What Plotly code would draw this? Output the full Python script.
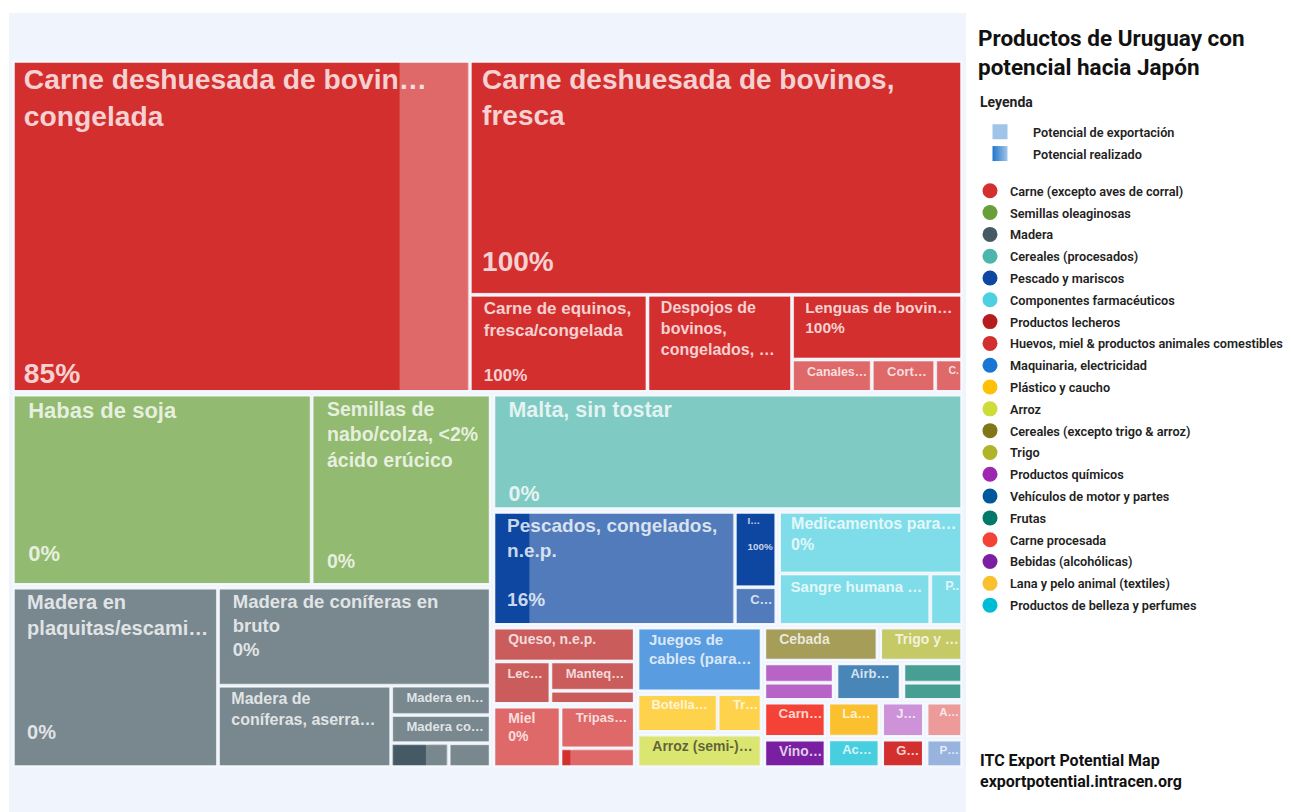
import plotly.graph_objects as go

W, H = 1292, 812
BG = "#f0f5fd"

# ---------------- data ----------------
CATEGORIES = [
    "Carne (excepto aves de corral)", "Semillas oleaginosas", "Madera",
    "Cereales (procesados)", "Pescado y mariscos", "Componentes farmacéuticos",
    "Productos lecheros", "Huevos, miel & productos animales comestibles",
    "Maquinaria, electricidad", "Plástico y caucho", "Arroz",
    "Cereales (excepto trigo & arroz)", "Trigo", "Productos químicos",
    "Vehículos de motor y partes", "Frutas", "Carne procesada",
    "Bebidas (alcohólicas)", "Lana y pelo animal (textiles)",
    "Productos de belleza y perfumes",
    "Jugos y conservas", "Grasas animales", "Aceites vegetales", "Pieles y cueros",
]
CATEGORY_COLORS = [
    "#d32f2f", "#689f38", "#455a64", "#4db6ac", "#0d47a1", "#4dd0e1",
    "#b71c1c", "#d32f2f", "#1976d2", "#ffc107", "#cddc39", "#827717",
    "#afb42b", "#9c27b0", "#01579b", "#00796b", "#f44336", "#7b1fa2",
    "#fbc02d", "#00bcd4",
    "#ba68c8", "#d32f2f", "#e57373", "#7095d0",
]
N_LEGEND = 20

PRODUCT_IDS = [
    "congelada", "fresca", "equinos", "despojos", "lenguas", "canales", "cortes", "c_carne",
    "soja", "colza",
    "plaquitas", "bruto", "aserrada", "madera_en", "madera_co", "madera_a", "madera_b",
    "malta",
    "pescados", "i_pesc", "c_pesc",
    "medicamentos", "sangre", "p_farma",
    "queso", "leche", "manteca", "lacteo_x",
    "miel", "tripas", "huevo_x",
    "cables", "botellas", "tr_plast", "arroz", "cebada", "trigo",
    "quim_1", "quim_2", "airbags", "fruta_1", "fruta_2",
    "carne_proc", "vino", "lana", "ac_belleza", "j_x", "g_x", "a_x", "p_x",
]
PRODUCT_LABELS = [
    "Carne deshuesada de bovin…<br>congelada", "Carne deshuesada de bovinos,<br>fresca",
    "Carne de equinos,<br>fresca/congelada", "Despojos de<br>bovinos,<br>congelados, …",
    "Lenguas de bovin…", "Canales…", "Cort…", "C.",
    "Habas de soja", "Semillas de<br>nabo/colza, &lt;2%<br>ácido erúcico",
    "Madera en<br>plaquitas/escami…", "Madera de coníferas en<br>bruto",
    "Madera de<br>coníferas, aserra…", "Madera en…", "Madera co…", "", "",
    "Malta, sin tostar",
    "Pescados, congelados,<br>n.e.p.", "I…", "C…",
    "Medicamentos para…", "Sangre humana …", "P..",
    "Queso, n.e.p.", "Lec…", "Manteq…", "",
    "Miel", "Tripas…", "",
    "Juegos de<br>cables (para…", "Botella…", "Tr…", "Arroz (semi-)…", "Cebada", "Trigo y …",
    "", "", "Airb…", "", "",
    "Carn…", "Vino…", "La…", "Ac…", "J…", "G…", "A…", "P…",
]
PRODUCT_CATEGORY = (
    [0] * 8 + [1] * 2 + [2] * 7 + [3] + [4] * 3 + [5] * 3 + [6] * 4 + [7] * 3
    + [8, 9, 9, 10, 11, 12, 13, 13, 14, 15, 15, 16, 17, 18, 19, 20, 21, 22, 23]
)
# export potential (USD millones, estimado)
POTENTIAL = [
    150.4, 114.2, 17.2, 14.0, 10.9, 2.65, 2.11, 0.94,
    56.9, 34.2,
    37.0, 26.8, 14.1, 2.9, 2.8, 1.43, 1.08,
    54.3,
    27.6, 3.23, 1.64,
    11.5, 7.9, 1.72,
    5.0, 2.52, 2.47, 1.23,
    4.25, 3.19, 1.5,
    8.3, 3.24, 1.8, 4.41, 4.08, 2.98,
    1.47, 1.32, 2.59, 1.25, 1.13,
    2.32, 1.9, 1.94, 1.62, 1.61, 1.32, 1.39, 1.14,
]
# realized potential (%)
REALIZED = [
    85, 100, 100, 100, 100, 0, 0, 0,
    0, 0,
    0, 0, 0, 2, 0, 63, 0,
    0,
    16, 100, 0,
    0, 0, 0,
    0, 0, 0, 0,
    0, 4, 15,
    0, 0, 0, 0, 0, 0,
    0, 0, 0, 0, 0,
    100, 100, 100, 0, 6, 100, 0, 0,
]
SHOW_PCT = {"congelada", "fresca", "equinos", "lenguas", "soja", "colza", "plaquitas",
            "bruto", "malta", "pescados", "i_pesc", "medicamentos", "miel"}

# ---------------- styles ----------------
LABEL_SIZE = {"congelada": 30, "fresca": 28, "equinos": 17, "despojos": 16, "lenguas": 15.5,
              "soja": 22, "colza": 19.5, "plaquitas": 20, "bruto": 18.5, "aserrada": 16,
              "malta": 22, "pescados": 19, "medicamentos": 16, "sangre": 15,
              "queso": 14, "miel": 14, "cables": 15, "arroz": 14, "cebada": 14,
              "trigo": 14, "carne_proc": 14, "vino": 14}
PCT_LINE = {"congelada": 8, "fresca": 5, "equinos": 3, "lenguas": 1, "soja": 5, "colza": 6,
            "plaquitas": 5, "bruto": 2, "malta": 3, "pescados": 3, "i_pesc": 2,
            "medicamentos": 1, "miel": 1}
DARK_TEXT = {"arroz"}
PACKING = "dice-slice"

# tiling arrangement: ("V", [...]) stacked, ("H", [...]) side by side, ("G", category, content)
TILING = ("V", [
    ("G", 0, ("H", ["congelada", ("V", ["fresca", ("H", ["equinos", "despojos",
        ("V", ["lenguas", ("H", ["canales", "cortes", "c_carne"])])])])])),
    ("H", [
        ("V", [
            ("G", 1, ("H", ["soja", "colza"])),
            ("G", 2, ("H", ["plaquitas", ("V", ["bruto", ("H", ["aserrada",
                ("V", ["madera_en", "madera_co", ("H", ["madera_a", "madera_b"])])])])])),
        ]),
        ("V", [
            ("G", 3, "malta"),
            ("H", [
                ("G", 4, ("H", ["pescados", ("V", ["i_pesc", "c_pesc"])])),
                ("G", 5, ("V", ["medicamentos", ("H", ["sangre", "p_farma"])])),
            ]),
            ("H", [
                ("V", [
                    ("G", 6, ("V", ["queso", ("H", ["leche", ("V", ["manteca", "lacteo_x"])])])),
                    ("G", 7, ("H", ["miel", ("V", ["tripas", "huevo_x"])])),
                ]),
                ("V", [("G", 8, "cables"), ("G", 9, ("H", ["botellas", "tr_plast"])), ("G", 10, "arroz")]),
                ("V", [
                    ("H", [("G", 11, "cebada"), ("G", 12, "trigo")]),
                    ("H", [("G", 13, ("V", ["quim_1", "quim_2"])), ("G", 14, "airbags"),
                           ("G", 15, ("V", ["fruta_1", "fruta_2"]))]),
                    ("H", [
                        ("V", [("G", 16, "carne_proc"), ("G", 17, "vino")]),
                        ("V", [("G", 18, "lana"), ("G", 19, "ac_belleza")]),
                        ("V", [("G", 20, "j_x"), ("G", 21, "g_x")]),
                        ("V", [("G", 22, "a_x"), ("G", 23, "p_x")]),
                    ]),
                ]),
            ]),
        ]),
    ]),
])


def lighten(hexcol, a=0.72):
    h = hexcol.lstrip("#")
    r, g, b = (int(h[i:i + 2], 16) for i in (0, 2, 4))
    return "#%02x%02x%02x" % tuple(round(c * a + 255 * (1 - a)) for c in (r, g, b))


def orient_at(depth):
    # orientation applied by the packing at a given depth
    return "V" if depth % 2 == 0 else "H"


pidx = {p: i for i, p in enumerate(PRODUCT_IDS)}
T1 = {k: [] for k in ("ids", "parents", "labels", "values", "colors")}
T2 = {k: [] for k in ("ids", "parents", "labels", "values", "colors", "lw", "lc", "text", "fs", "tc")}
counter = [0]


def new_id(prefix):
    counter[0] += 1
    return f"{prefix}{counter[0]}"


def add1(i, p, label, v, c):
    T1["ids"].append(i); T1["parents"].append(p); T1["labels"].append(label)
    T1["values"].append(v); T1["colors"].append(c)


def add2(i, p, label, v, lw=0, lc="rgba(0,0,0,0)", text="", fs=10, tc="white"):
    T2["ids"].append(i); T2["parents"].append(p); T2["labels"].append(label)
    T2["values"].append(v); T2["colors"].append("rgba(0,0,0,0)")
    T2["lw"].append(lw); T2["lc"].append(lc); T2["text"].append(text)
    T2["fs"].append(fs); T2["tc"].append(tc)


def add_internal(i, p, label="", group=False):
    add1(i, p, label, 0, BG)
    add2(i, p, label, 0, lw=3.5 if group else 0, lc=BG)


def container(node_id, depth, orient, n, internal=add_internal):
    if n > 1 and orient_at(depth) != orient:
        pid = new_id("pass")
        internal(pid, node_id)
        return pid, depth + 2
    return node_id, depth + 1


def label_text(key):
    i = pidx[key]
    fs = LABEL_SIZE.get(key, 13)
    pfx = "\u00a0" * max(1, round(10 / (0.278 * fs)))
    lines = [pfx + s for s in PRODUCT_LABELS[i].split("<br>") if s]
    if key in SHOW_PCT:
        while len(lines) < PCT_LINE[key]:
            lines.append("\u00a0")
        lines.append(pfx + f"{REALIZED[i]:.0f}%")
    return "<br>".join(lines), fs


def add_product(key, parent, depth):
    i = pidx[key]
    col = CATEGORY_COLORS[PRODUCT_CATEGORY[i]]
    v, pct = POTENTIAL[i], REALIZED[i]
    name = PRODUCT_LABELS[i].replace("<br>", " ") or CATEGORIES[PRODUCT_CATEGORY[i]]
    pid = "p_" + key
    text, fs = label_text(key)
    add2(pid, parent, name, v, lw=1, lc="rgba(255,255,255,0.55)", text=text, fs=fs,
         tc="rgba(55,55,40,0.75)" if key in DARK_TEXT else "rgba(255,255,255,0.78)")
    if 0 < pct < 100:
        add1(pid, parent, name, 0, lighten(col))

        def internal1(ii, pp):
            add1(ii, pp, "", 0, lighten(col))
        cp, _ = container(pid, depth, "H", 2, internal=internal1)
        add1(pid + "_r", cp, name + " (realizado)", v * pct / 100, col)
        add1(pid + "_u", cp, name + " (no realizado)", v * (100 - pct) / 100, lighten(col))
    else:
        add1(pid, parent, name, v, col if pct >= 100 else lighten(col))


def build_content(content, node_id, depth):
    if isinstance(content, str):
        add_product(content, node_id, depth + 1)
        return
    orient, children = content
    cp, cd = container(node_id, depth, orient, len(children))
    for ch in children:
        build(ch, cp, cd)


def build(spec, parent, depth):
    if isinstance(spec, str):
        add_product(spec, parent, depth)
    elif spec[0] == "G":
        gid = new_id("g")
        add_internal(gid, parent, label=CATEGORIES[spec[1]], group=True)
        build_content(spec[2], gid, depth)
    else:
        sid = new_id("s")
        add_internal(sid, parent)
        build_content(spec, sid, depth)


add1("root", "", "Uruguay → Japón", 0, BG)
add2("root", "", "Uruguay → Japón", 0)
build_content(TILING, "root", 0)

domain = dict(x=[13 / W, 962 / W], y=[1 - 767 / H, 1 - 61 / H])
common = dict(branchvalues="remainder", sort=False, domain=domain,
              tiling=dict(packing=PACKING), pathbar=dict(visible=False),
              root=dict(color=BG))

fig = go.Figure()
fig.add_trace(go.Treemap(
    ids=T1["ids"], parents=T1["parents"], labels=T1["labels"], values=T1["values"],
    marker=dict(colors=T1["colors"], line=dict(width=0), pad=dict(t=0, l=0, r=0, b=0),
                depthfade=False),
    textinfo="none", hoverinfo="skip", **common))
fig.add_trace(go.Treemap(
    ids=T2["ids"], parents=T2["parents"], labels=T2["labels"], values=T2["values"],
    text=T2["text"], texttemplate="%{text}", textposition="top left",
    textfont=dict(family="Liberation Sans, Arial, sans-serif", size=T2["fs"], color=T2["tc"],
                  weight="bold"),
    marker=dict(colors=T2["colors"], line=dict(width=T2["lw"], color=T2["lc"]),
                pad=dict(t=0, l=0, r=0, b=0), depthfade=False),
    hovertemplate="%{label}<br>%{value:.1f} mill. USD<extra></extra>", **common))

# legend entries
fig.add_trace(go.Scatter(x=[None], y=[None], mode="markers", name="Potencial de exportación",
                         marker=dict(symbol="square", size=15, color="#a0c4e8"),
                         legend="legend", legendgroup="pe", hoverinfo="skip"))
fig.add_trace(go.Scatter(x=[None], y=[None], mode="markers", name="Potencial realizado",
                         marker=dict(symbol="square", size=15, color="#1f76cc",
                                     gradient=dict(type="horizontal", color="#a0c4e8")),
                         legend="legend", legendgroup="pr", hoverinfo="skip"))
for cat, col in zip(CATEGORIES[:N_LEGEND], CATEGORY_COLORS[:N_LEGEND]):
    fig.add_trace(go.Scatter(x=[None], y=[None], mode="markers", name=cat,
                             marker=dict(symbol="circle", size=15, color=col),
                             legend="legend2", legendgroup=cat, hoverinfo="skip"))

legend_font = dict(family="Roboto, sans-serif", size=12.7, color="#222", weight=600)
fig.update_layout(
    width=W, height=H, margin=dict(l=0, r=0, t=0, b=0),
    paper_bgcolor="white", plot_bgcolor="rgba(0,0,0,0)",
    xaxis=dict(visible=False), yaxis=dict(visible=False),
    title=dict(text="<b>Productos de Uruguay con<br>potencial hacia Japón</b>",
               x=978 / W, xanchor="left", y=1 - 46 / H, yanchor="top",
               font=dict(family="Roboto, sans-serif", size=22.5, color="#111")),
    legend=dict(x=967 / W, xanchor="left", y=1 - 117 / H, yanchor="top",
                itemwidth=56, font=legend_font, traceorder="grouped", tracegroupgap=2.3,
                bgcolor="rgba(0,0,0,0)", itemclick=False),
    legend2=dict(x=970 / W, xanchor="left", y=1 - 176 / H, yanchor="top",
                 font=legend_font, traceorder="grouped", tracegroupgap=2.3,
                 bgcolor="rgba(0,0,0,0)", itemclick=False),
    shapes=[dict(type="rect", xref="paper", yref="paper", x0=9 / W, x1=966 / W,
                 y0=0, y1=1 - 13 / H, fillcolor=BG, line=dict(width=0), layer="below")],
    annotations=[
        dict(text="<b>Leyenda</b>", x=978 / W, y=1 - 102 / H, xref="paper", yref="paper",
             xanchor="left", yanchor="middle", showarrow=False,
             font=dict(family="Roboto, sans-serif", size=14, color="#222")),
        dict(text="<b>ITC Export Potential Map</b><br><b>exportpotential.intracen.org</b>",
             x=978 / W, y=1 - 749 / H, xref="paper", yref="paper", xanchor="left",
             yanchor="top", align="left", showarrow=False,
             font=dict(family="Roboto, sans-serif", size=16, color="#111")),
    ],
)

fig.write_html("out.html", config={"displayModeBar": False},
               post_script="document.body.style.margin='0';")
